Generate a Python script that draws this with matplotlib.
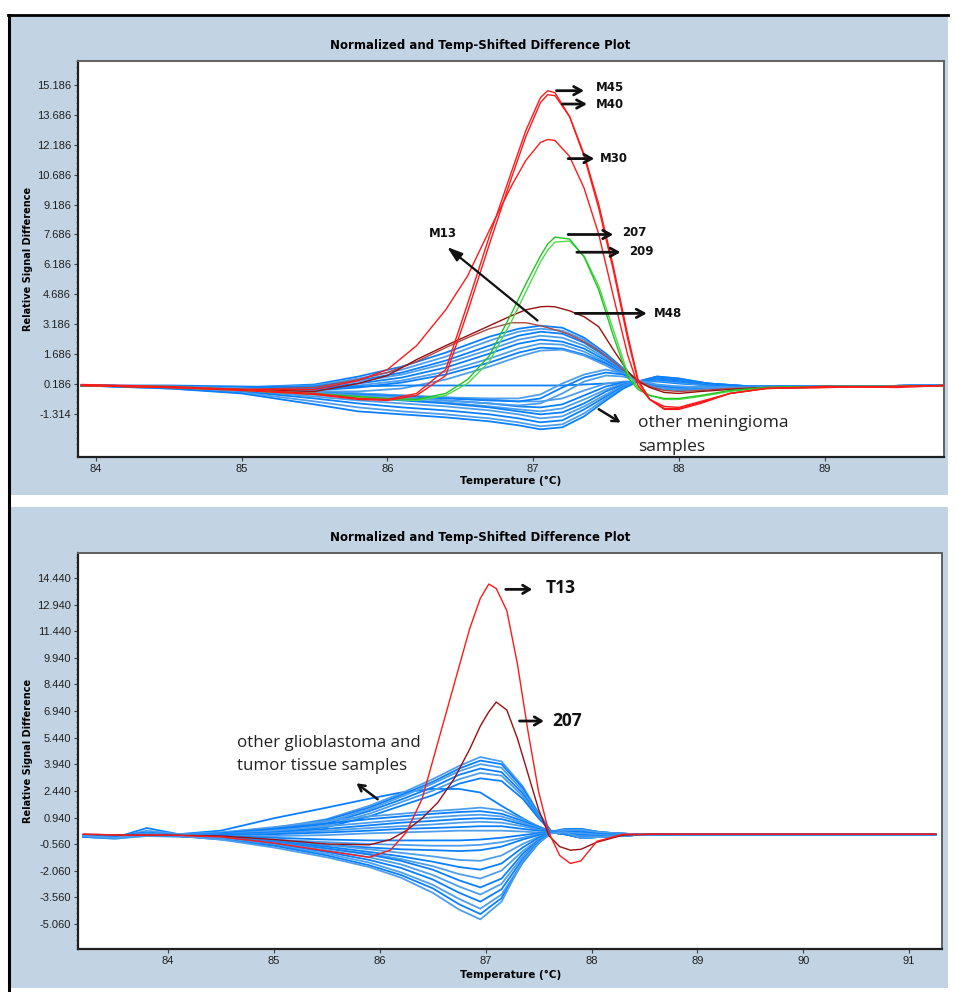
import matplotlib
matplotlib.use('Agg')
import matplotlib.pyplot as plt
from matplotlib import font_manager
from matplotlib.patches import Rectangle
from matplotlib.lines import Line2D
from matplotlib.ticker import FixedLocator
import numpy as np

# ---------------- DATA ----------------
# Top panel (meningioma) - temperature grid for the coloured curves
T_TOP = [83.9, 84.5, 85.0, 85.5, 85.8, 86.0, 86.2, 86.4, 86.55, 86.7, 86.85, 86.95, 87.05, 87.1,
         87.15, 87.25, 87.35, 87.45, 87.55, 87.65, 87.72, 87.8, 87.9, 88.0, 88.15, 88.35, 88.6,
         89.0, 89.5, 89.83]
M45 = [0.15, 0.05, -0.1, -0.3, -0.55, -0.6, -0.3, 0.9, 4.2, 7.6, 10.8, 12.9, 14.55, 14.9, 14.8,
       13.6, 11.6, 9.0, 5.9, 2.4, 0.3, -0.6, -1.05, -1.05, -0.75, -0.3, -0.05, 0.05, 0.0, 0.1]
M40 = [0.1, 0.0, -0.15, -0.35, -0.6, -0.65, -0.4, 0.6, 3.8, 7.2, 10.5, 12.6, 14.3, 14.7, 14.65,
       13.6, 11.7, 9.2, 6.1, 2.6, 0.4, -0.6, -1.1, -1.1, -0.8, -0.3, -0.05, 0.0, 0.05, 0.1]
M30 = [0.1, 0.0, -0.1, -0.1, 0.35, 0.9, 2.1, 3.9, 5.6, 7.9, 10.1, 11.4, 12.3, 12.45, 12.4,
       11.6, 10.0, 7.7, 4.6, 1.6, 0.1, -0.6, -0.95, -1.0, -0.7, -0.3, -0.05, 0.0, 0.05, 0.1]
M48 = [0.1, 0.0, -0.1, -0.2, 0.2, 0.6, 1.4, 2.1, 2.6, 3.1, 3.6, 3.9, 4.05, 4.07, 4.05,
       3.85, 3.55, 3.05, 1.9, 0.8, 0.3, 0.0, -0.25, -0.3, -0.2, -0.1, 0.0, 0.05, 0.05, 0.1]
M13 = [0.1, 0.0, -0.1, 0.0, 0.4, 0.75, 1.3, 2.0, 2.5, 2.95, 3.25, 3.25, 3.1, 3.0, 2.9,
       2.65, 2.3, 1.85, 1.3, 0.7, 0.35, 0.05, -0.15, -0.2, -0.15, -0.05, 0.0, 0.05, 0.05, 0.1]
G207 = [0.1, 0.05, -0.1, -0.3, -0.45, -0.55, -0.6, -0.3, 0.4, 1.6, 3.7, 5.2, 6.6, 7.2, 7.55,
        7.45, 6.55, 4.9, 2.6, 0.5, -0.1, -0.4, -0.55, -0.55, -0.4, -0.15, 0.0, 0.05, 0.05, 0.1]
G209 = [0.1, 0.0, -0.15, -0.35, -0.5, -0.6, -0.65, -0.4, 0.2, 1.3, 3.3, 4.8, 6.3, 6.9, 7.3,
        7.35, 6.6, 5.1, 2.9, 0.7, 0.0, -0.4, -0.6, -0.6, -0.45, -0.2, 0.0, 0.05, 0.05, 0.1]

# Top panel - grid for the blue (other meningioma) curves
T_TOP_B = [83.9, 84.5, 85.0, 85.5, 85.8, 86.1, 86.4, 86.7, 86.9, 87.05, 87.2, 87.35, 87.5, 87.62,
           87.72, 87.85, 88.0, 88.2, 88.5, 89.0, 89.83]
TOP_BLUE = [
    [0.1, 0.05, 0.0, 0.15, 0.55, 1.05, 1.75, 2.55, 2.95, 3.1, 3.0, 2.5, 1.7, 0.95, 0.35, -0.05, -0.15, -0.05, 0.0, 0.05, 0.1],
    [0.1, 0.05, 0.0, 0.1, 0.45, 0.9, 1.55, 2.35, 2.8, 2.95, 2.85, 2.4, 1.6, 0.9, 0.35, -0.05, -0.15, -0.05, 0.0, 0.05, 0.1],
    [0.1, 0.05, 0.0, 0.05, 0.35, 0.75, 1.35, 2.1, 2.6, 2.8, 2.7, 2.25, 1.55, 0.85, 0.35, 0.0, -0.1, 0.0, 0.0, 0.05, 0.1],
    [0.1, 0.05, -0.05, 0.0, 0.3, 0.65, 1.2, 1.9, 2.4, 2.6, 2.5, 2.1, 1.45, 0.8, 0.3, 0.0, -0.1, 0.0, 0.0, 0.05, 0.1],
    [0.1, 0.05, -0.05, -0.05, 0.2, 0.5, 1.0, 1.7, 2.2, 2.4, 2.3, 1.95, 1.35, 0.8, 0.3, 0.05, -0.05, 0.0, 0.0, 0.05, 0.1],
    [0.1, 0.0, -0.1, -0.1, 0.1, 0.35, 0.8, 1.45, 1.95, 2.2, 2.15, 1.8, 1.25, 0.75, 0.3, 0.05, -0.05, 0.0, 0.0, 0.05, 0.1],
    [0.1, 0.0, -0.1, -0.15, 0.0, 0.25, 0.65, 1.25, 1.75, 2.0, 1.95, 1.65, 1.2, 0.7, 0.3, 0.1, 0.0, 0.0, 0.0, 0.05, 0.1],
    [0.1, 0.0, -0.1, -0.2, -0.2, -0.05, 0.4, 1.05, 1.55, 1.85, 1.9, 1.6, 1.1, 0.65, 0.3, 0.1, 0.05, 0.0, 0.0, 0.05, 0.1],
    [0.1, 0.1, 0.05, 0.0, 0.05, 0.1, 0.1, 0.1, 0.1, 0.1, 0.1, 0.15, 0.2, 0.25, 0.3, 0.3, 0.2, 0.1, 0.05, 0.05, 0.1],
    [0.1, 0.05, -0.05, -0.2, -0.3, -0.4, -0.5, -0.6, -0.7, -0.7, -0.55, -0.15, 0.2, 0.3, 0.3, 0.35, 0.25, 0.1, 0.05, 0.05, 0.1],
    [0.1, 0.05, -0.1, -0.25, -0.35, -0.5, -0.65, -0.8, -0.95, -1.0, -0.85, -0.4, 0.05, 0.25, 0.3, 0.4, 0.3, 0.15, 0.05, 0.05, 0.1],
    [0.1, 0.05, -0.1, -0.3, -0.45, -0.6, -0.75, -0.95, -1.1, -1.2, -1.05, -0.6, -0.1, 0.2, 0.3, 0.45, 0.35, 0.15, 0.05, 0.05, 0.1],
    [0.1, 0.0, -0.15, -0.35, -0.5, -0.65, -0.8, -1.0, -1.2, -1.35, -1.25, -0.8, -0.2, 0.15, 0.3, 0.45, 0.35, 0.15, 0.05, 0.05, 0.1],
    [0.1, 0.0, -0.15, -0.45, -0.65, -0.8, -0.95, -1.15, -1.35, -1.55, -1.45, -0.95, -0.35, 0.1, 0.3, 0.5, 0.4, 0.2, 0.05, 0.05, 0.1],
    [0.1, 0.0, -0.2, -0.55, -0.8, -1.0, -1.15, -1.35, -1.55, -1.75, -1.65, -1.1, -0.45, 0.05, 0.3, 0.5, 0.4, 0.2, 0.05, 0.05, 0.1],
    [0.1, -0.05, -0.25, -0.7, -1.0, -1.2, -1.35, -1.55, -1.75, -1.95, -1.85, -1.3, -0.55, 0.0, 0.3, 0.55, 0.45, 0.2, 0.05, 0.05, 0.1],
    [0.1, -0.05, -0.3, -0.85, -1.2, -1.35, -1.5, -1.7, -1.9, -2.1, -2.0, -1.45, -0.65, -0.05, 0.3, 0.55, 0.45, 0.2, 0.05, 0.05, 0.1],
    [0.1, 0.05, -0.05, -0.2, -0.3, -0.4, -0.5, -0.55, -0.55, -0.35, 0.2, 0.65, 0.9, 0.7, 0.35, 0.1, 0.0, 0.0, 0.0, 0.05, 0.1],
    [0.1, 0.05, -0.1, -0.25, -0.35, -0.45, -0.55, -0.65, -0.7, -0.55, 0.0, 0.5, 0.75, 0.65, 0.35, 0.1, 0.0, 0.0, 0.0, 0.05, 0.1],
    [0.1, 0.05, -0.1, -0.25, -0.4, -0.5, -0.65, -0.8, -0.9, -0.8, -0.3, 0.3, 0.6, 0.55, 0.35, 0.15, 0.05, 0.0, 0.0, 0.05, 0.1],
]

# Bottom panel (glioblastoma) - coloured curves
T_BOT = [83.2, 83.6, 83.8, 84.0, 84.5, 85.0, 85.5, 85.9, 86.1, 86.25, 86.4, 86.55, 86.7, 86.85,
         86.95, 87.03, 87.1, 87.2, 87.3, 87.4, 87.5, 87.6, 87.7, 87.8, 87.9, 88.05, 88.3, 88.6,
         89.0, 90.0, 91.25]
T13 = [0.0, -0.05, -0.05, -0.05, -0.15, -0.5, -0.95, -1.3, -0.9, 0.1, 2.0, 5.2, 8.4, 11.6,
       13.3, 14.1, 13.85, 12.6, 9.6, 5.8, 2.4, 0.05, -1.2, -1.65, -1.5, -0.4, 0.0, 0.0,
       0.0, 0.0, 0.0]
B207 = [0.0, -0.05, -0.05, -0.05, -0.1, -0.3, -0.55, -0.6, -0.3, 0.2, 0.9, 1.8, 3.1, 4.8,
        6.1, 6.9, 7.45, 7.0, 5.4, 3.4, 1.4, -0.1, -0.7, -0.9, -0.85, -0.45, -0.05, 0.0,
        0.0, 0.0, 0.0]

# Bottom panel - blue (other glioblastoma / tumour tissue) curves
T_BOT_B = [83.2, 83.5, 83.8, 84.1, 84.5, 85.0, 85.5, 85.9, 86.2, 86.5, 86.75, 86.95, 87.15,
           87.35, 87.5, 87.62, 87.75, 87.9, 88.1, 88.4, 88.8, 89.5, 90.3, 91.25]
BOT_BLUE = [
    [-0.1, -0.2, 0.35, 0.0, 0.2, 0.9, 1.5, 2.0, 2.35, 2.55, 2.55, 2.35, 1.6, 0.9, 0.4, 0.1, 0.05, 0.0, -0.05, 0.0, 0.0, 0.0, 0.0, 0.0],
    [-0.1, -0.1, 0.0, -0.05, 0.1, 0.35, 0.85, 1.6, 2.3, 3.1, 3.85, 4.35, 4.1, 2.7, 1.2, 0.15, 0.0, 0.1, 0.0, -0.05, 0.0, 0.0, 0.0, 0.0],
    [-0.15, -0.1, 0.05, -0.05, 0.05, 0.3, 0.8, 1.5, 2.2, 2.95, 3.7, 4.15, 3.95, 2.6, 1.15, 0.15, 0.0, 0.1, 0.0, -0.05, 0.0, 0.0, 0.0, 0.0],
    [-0.1, -0.15, 0.0, -0.05, 0.05, 0.25, 0.7, 1.4, 2.1, 2.85, 3.55, 3.95, 3.75, 2.45, 1.1, 0.15, 0.0, 0.1, 0.0, -0.05, 0.0, 0.0, 0.0, 0.0],
    [-0.1, -0.1, 0.05, -0.05, 0.0, 0.2, 0.6, 1.3, 1.95, 2.65, 3.35, 3.7, 3.5, 2.3, 1.0, 0.15, 0.0, 0.1, 0.0, -0.05, 0.0, 0.0, 0.0, 0.0],
    [-0.05, -0.1, 0.0, 0.0, 0.0, 0.15, 0.5, 1.15, 1.8, 2.45, 3.1, 3.45, 3.3, 2.15, 0.95, 0.15, 0.05, 0.1, 0.0, -0.05, 0.0, 0.0, 0.0, 0.0],
    [-0.1, -0.1, 0.0, 0.0, 0.0, 0.1, 0.4, 1.0, 1.6, 2.2, 2.85, 3.15, 3.0, 2.0, 0.9, 0.15, 0.05, 0.1, 0.0, -0.05, 0.0, 0.0, 0.0, 0.0],
    [-0.1, -0.2, 0.2, 0.0, 0.1, 0.4, 0.75, 1.0, 1.15, 1.3, 1.4, 1.5, 1.35, 0.85, 0.45, 0.15, 0.1, 0.15, 0.05, 0.0, 0.0, 0.0, 0.0, 0.0],
    [-0.05, -0.1, 0.1, -0.05, 0.05, 0.3, 0.6, 0.85, 1.0, 1.15, 1.25, 1.3, 1.15, 0.75, 0.4, 0.15, 0.15, 0.2, 0.05, 0.0, 0.0, 0.0, 0.0, 0.0],
    [-0.1, -0.15, 0.0, -0.05, 0.0, 0.2, 0.45, 0.65, 0.8, 0.95, 1.05, 1.1, 1.0, 0.65, 0.35, 0.15, 0.2, 0.25, 0.1, 0.0, 0.0, 0.0, 0.0, 0.0],
    [-0.15, -0.2, -0.05, -0.1, 0.0, 0.1, 0.3, 0.5, 0.65, 0.75, 0.85, 0.9, 0.85, 0.55, 0.3, 0.15, 0.2, 0.25, 0.1, 0.0, 0.0, 0.0, 0.0, 0.0],
    [-0.1, -0.1, 0.0, -0.05, -0.05, 0.05, 0.2, 0.35, 0.45, 0.55, 0.65, 0.7, 0.65, 0.45, 0.25, 0.15, 0.25, 0.3, 0.1, 0.0, 0.0, 0.0, 0.0, 0.0],
    [-0.1, -0.15, -0.05, -0.1, -0.05, 0.0, 0.1, 0.2, 0.3, 0.35, 0.4, 0.45, 0.45, 0.3, 0.2, 0.15, 0.3, 0.3, 0.1, 0.0, 0.0, 0.0, 0.0, 0.0],
    [-0.15, -0.2, -0.1, -0.1, -0.1, -0.1, -0.05, 0.05, 0.1, 0.15, 0.2, 0.2, 0.2, 0.15, 0.1, 0.1, 0.25, 0.25, 0.1, 0.0, 0.0, 0.0, 0.0, 0.0],
    [-0.1, -0.15, -0.05, -0.1, -0.1, -0.2, -0.3, -0.35, -0.35, -0.35, -0.35, -0.3, -0.2, -0.05, 0.05, 0.1, 0.15, 0.1, 0.0, -0.05, 0.0, 0.0, 0.0, 0.0],
    [-0.15, -0.25, -0.1, -0.15, -0.15, -0.3, -0.45, -0.55, -0.6, -0.65, -0.65, -0.6, -0.45, -0.2, 0.0, 0.1, 0.1, 0.05, -0.05, -0.05, 0.0, 0.0, 0.0, 0.0],
    [-0.1, -0.2, -0.05, -0.1, -0.2, -0.4, -0.6, -0.75, -0.85, -0.9, -0.95, -0.9, -0.7, -0.3, -0.05, 0.1, 0.05, -0.05, -0.1, -0.05, 0.0, 0.0, 0.0, 0.0],
    [-0.1, -0.15, 0.0, -0.1, -0.15, -0.35, -0.6, -0.85, -1.05, -1.25, -1.45, -1.5, -1.2, -0.55, -0.15, 0.1, 0.0, -0.1, -0.15, -0.05, 0.0, 0.0, 0.0, 0.0],
    [-0.1, -0.2, 0.0, -0.1, -0.2, -0.4, -0.7, -1.0, -1.25, -1.55, -1.85, -2.0, -1.65, -0.75, -0.2, 0.1, 0.0, -0.15, -0.15, -0.05, 0.0, 0.0, 0.0, 0.0],
    [-0.15, -0.25, -0.05, -0.1, -0.2, -0.45, -0.8, -1.1, -1.4, -1.8, -2.25, -2.5, -2.05, -0.95, -0.3, 0.1, 0.0, -0.2, -0.15, -0.05, 0.0, 0.0, 0.0, 0.0],
    [-0.1, -0.2, 0.0, -0.1, -0.2, -0.45, -0.8, -1.15, -1.5, -2.0, -2.6, -3.0, -2.5, -1.1, -0.35, 0.1, 0.0, -0.2, -0.15, -0.05, 0.0, 0.0, 0.0, 0.0],
    [-0.1, -0.15, 0.05, -0.1, -0.25, -0.5, -0.9, -1.3, -1.7, -2.3, -2.95, -3.4, -2.8, -1.25, -0.4, 0.1, 0.0, -0.2, -0.15, -0.05, 0.0, 0.0, 0.0, 0.0],
    [-0.15, -0.2, 0.0, -0.1, -0.25, -0.55, -1.0, -1.45, -1.9, -2.55, -3.3, -3.8, -3.1, -1.4, -0.45, 0.1, 0.0, -0.2, -0.15, -0.05, 0.0, 0.0, 0.0, 0.0],
    [-0.1, -0.2, 0.0, -0.1, -0.25, -0.6, -1.1, -1.6, -2.15, -2.85, -3.65, -4.2, -3.4, -1.55, -0.5, 0.1, 0.05, -0.2, -0.15, -0.05, 0.0, 0.0, 0.0, 0.0],
    [-0.1, -0.15, 0.0, -0.1, -0.3, -0.65, -1.2, -1.75, -2.3, -3.05, -3.95, -4.5, -3.6, -1.6, -0.5, 0.1, 0.05, -0.2, -0.15, -0.05, 0.0, 0.0, 0.0, 0.0],
    [-0.1, -0.2, 0.0, -0.1, -0.3, -0.75, -1.3, -1.85, -2.45, -3.3, -4.25, -4.8, -3.8, -1.5, -0.5, 0.05, 0.1, -0.2, -0.15, -0.05, 0.0, 0.0, 0.0, 0.0],
]

TOP_YTICKS = [-1.314, 0.186, 1.686, 3.186, 4.686, 6.186, 7.686, 9.186, 10.686, 12.186, 13.686, 15.186]
BOT_YTICKS = [-5.060, -3.560, -2.060, -0.560, 0.940, 2.440, 3.940, 5.440, 6.940, 8.440, 9.940, 11.440, 12.940, 14.440]
TOP_XTICKS = [84, 85, 86, 87, 88, 89]
BOT_XTICKS = [84, 85, 86, 87, 88, 89, 90, 91]
TITLE = 'Normalized and Temp-Shifted Difference Plot'
XLABEL = 'Temperature (°C)'
YLABEL = 'Relative Signal Difference'

# ---------------- STYLE ----------------
W, H = 957, 992
avail = {f.name for f in font_manager.fontManager.ttflist}
TICKFONT = 'Liberation Sans' if 'Liberation Sans' in avail else 'DejaVu Sans'
ANNFONT = 'Open Sans' if 'Open Sans' in avail else 'DejaVu Sans'

BG = '#c2d4e4'
BLUE = ['#0a80ff', '#4d9eec']
RED = '#ff1a1a'
DKRED = '#9a1010'
BROWN = '#b04848'
GREEN = ['#22c422', '#4cdc4c']

fig = plt.figure(figsize=(W / 100, H / 100), dpi=100)
fig.patch.set_facecolor('white')


def fx(px):
    return px / W


def fy(py):
    return 1 - py / H


# panel backgrounds
fig.patches.append(Rectangle((fx(10), fy(495)), (948 - 10) / W, (495 - 16) / H,
                             transform=fig.transFigure, facecolor=BG, edgecolor='none', zorder=-2))
fig.patches.append(Rectangle((fx(10), fy(988)), (948 - 10) / W, (988 - 507) / H,
                             transform=fig.transFigure, facecolor=BG, edgecolor='none', zorder=-2))
# outer black border (left and top)
fig.lines.append(Line2D([fx(9), fx(9)], [fy(15), 0], transform=fig.transFigure, color='black', lw=2.2, zorder=5))
fig.lines.append(Line2D([fx(8), fx(948)], [fy(15), fy(15)], transform=fig.transFigure, color='black', lw=2.0, zorder=5))

ax1 = fig.add_axes([fx(78), fy(457), (944 - 78) / W, (457 - 61) / H])
ax2 = fig.add_axes([fx(78), fy(949), (942 - 78) / W, (949 - 553) / H])


def style_axes(ax, xticks, yticks, xlim, ylim):
    ax.set_facecolor('white')
    ax.set_xlim(*xlim)
    ax.set_ylim(*ylim)
    ax.set_xticks(xticks)
    ax.set_xticklabels([str(t) for t in xticks])
    ax.set_yticks(yticks)
    ax.set_yticklabels(['%.3f' % t for t in yticks])
    minors = np.arange(yticks[0] - 1.5, yticks[-1] + 1.6, 0.3)
    ax.yaxis.set_minor_locator(FixedLocator(minors))
    ax.tick_params(axis='both', which='major', direction='out', length=3, width=0.8,
                   color='#404040', labelsize=8, labelcolor='#202020', pad=2)
    ax.tick_params(axis='y', which='minor', direction='out', length=1.8, width=0.6, color='#606060')
    for lab in ax.get_xticklabels() + ax.get_yticklabels():
        lab.set_fontfamily(TICKFONT)
    for side in ['left', 'bottom']:
        ax.spines[side].set_color('#202020')
        ax.spines[side].set_linewidth(1.6)
    for side in ['top', 'right']:
        ax.spines[side].set_color('#606060')
        ax.spines[side].set_linewidth(1.4)


style_axes(ax1, TOP_XTICKS, TOP_YTICKS, (83.876, 89.82), (-3.49, 16.39))
style_axes(ax2, BOT_XTICKS, BOT_YTICKS, (83.15, 91.31), (-6.47, 15.85))

# ---- top panel curves ----
for i, ys in enumerate(TOP_BLUE):
    ax1.plot(T_TOP_B, ys, color=BLUE[i % 2], lw=1.3, zorder=2)
ax1.plot(T_TOP, M13, color=BROWN, lw=1.0, zorder=3)
ax1.plot(T_TOP, M48, color=DKRED, lw=1.0, zorder=3)
ax1.plot(T_TOP, G209, color=GREEN[1], lw=1.0, zorder=3)
ax1.plot(T_TOP, G207, color=GREEN[0], lw=1.0, zorder=3)
ax1.plot(T_TOP, M30, color=RED, lw=1.0, zorder=3)
ax1.plot(T_TOP, M40, color=RED, lw=1.0, zorder=3)
ax1.plot(T_TOP, M45, color=RED, lw=1.0, zorder=3)

# ---- bottom panel curves ----
for i, ys in enumerate(BOT_BLUE):
    ax2.plot(T_BOT_B, ys, color=BLUE[i % 2], lw=1.3, zorder=2)
ax2.plot(T_BOT, B207, color=DKRED, lw=1.0, zorder=3)
ax2.plot(T_BOT, T13, color=RED, lw=1.0, zorder=3)

# ---- annotations ----
arrow_top = dict(arrowstyle='->, head_length=0.55, head_width=0.3', lw=2.0, color='#111111',
                 shrinkA=0, shrinkB=0)
lab_kw = dict(fontsize=8.5, fontweight='bold', color='#111111', va='center', ha='left',
              family='DejaVu Sans')
top_ann = [('M45', 87.16, 87.35, 14.9, 87.43, 15.05),
           ('M40', 87.20, 87.37, 14.23, 87.43, 14.2),
           ('M30', 87.24, 87.42, 11.49, 87.46, 11.5),
           ('207', 87.24, 87.55, 7.68, 87.61, 7.77),
           ('209', 87.30, 87.60, 6.79, 87.66, 6.83),
           ('M48', 87.29, 87.78, 3.72, 87.83, 3.72)]
for name, xa, xb, ya, xt, yt in top_ann:
    ax1.annotate('', xy=(xb, ya), xytext=(xa, ya), arrowprops=arrow_top, zorder=6)
    ax1.text(xt, yt, name, zorder=6, **lab_kw)
ax1.text(86.38, 7.72, 'M13', ha='center', va='center', fontsize=8.5, fontweight='bold',
         color='#111111', family='DejaVu Sans', zorder=6)
ax1.annotate('', xy=(86.41, 7.05), xytext=(87.03, 3.36),
             arrowprops=dict(arrowstyle='-|>, head_length=0.9, head_width=0.3', lw=1.6,
                             color='#111111', shrinkA=0, shrinkB=0), zorder=6)
ax1.annotate('', xy=(87.60, -1.76), xytext=(87.45, -1.09),
             arrowprops=dict(arrowstyle='->, head_length=0.45, head_width=0.25', lw=1.8,
                             color='#111111', shrinkA=0, shrinkB=0), zorder=6)
ax1.text(87.72, -1.78, 'other meningioma', fontsize=12.5, family=ANNFONT, color='#222222',
         va='center', ha='left', zorder=6)
ax1.text(87.72, -2.98, 'samples', fontsize=12.5, family=ANNFONT, color='#222222',
         va='center', ha='left', zorder=6)

arrow_bot = dict(arrowstyle='->, head_length=0.5, head_width=0.3', lw=2.0, color='#111111',
                 shrinkA=0, shrinkB=0)
ax2.annotate('', xy=(87.44, 13.8), xytext=(87.19, 13.8), arrowprops=arrow_bot, zorder=6)
ax2.text(87.57, 13.86, 'T13', fontsize=12.5, fontweight='bold', family=ANNFONT, color='#111111',
         va='center', ha='left', zorder=6)
ax2.annotate('', xy=(87.55, 6.38), xytext=(87.32, 6.38), arrowprops=arrow_bot, zorder=6)
ax2.text(87.63, 6.38, '207', fontsize=12.5, fontweight='bold', family=ANNFONT, color='#111111',
         va='center', ha='left', zorder=6)
ax2.text(84.65, 5.14, 'other glioblastoma and', fontsize=12.2, family=ANNFONT, color='#222222',
         va='center', ha='left', zorder=6)
ax2.text(84.65, 3.84, 'tumor tissue samples', fontsize=12.2, family=ANNFONT, color='#222222',
         va='center', ha='left', zorder=6)
ax2.annotate('', xy=(85.78, 2.87), xytext=(85.98, 1.97),
             arrowprops=dict(arrowstyle='->, head_length=0.45, head_width=0.25', lw=1.8,
                             color='#111111', shrinkA=0, shrinkB=0), zorder=6)

# ---- titles and axis labels ----
for ty, xy_, yl in [(45, 481, 259), (538, 975, 751)]:
    fig.text(fx(480), fy(ty), TITLE, ha='center', va='center', fontsize=8.5,
             fontweight='bold', family='DejaVu Sans', color='black')
    fig.text(fx(511), fy(xy_), XLABEL, ha='center', va='center', fontsize=7.5,
             fontweight='bold', family='DejaVu Sans', color='black')
    fig.text(fx(28), fy(yl), YLABEL, ha='center', va='center', rotation=90, fontsize=7,
             fontweight='bold', family='DejaVu Sans', color='black')

fig.savefig('out.png', dpi=100, facecolor='white')
